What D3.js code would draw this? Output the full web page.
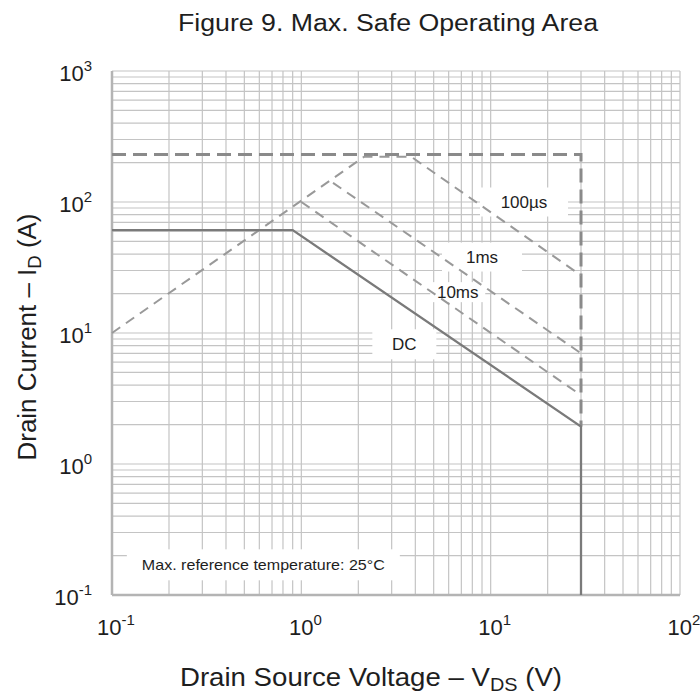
<!DOCTYPE html>
<html>
<head>
<meta charset="utf-8">
<script src="https://cdn.jsdelivr.net/npm/d3@7"></script>
<style>
  body { margin: 0; background: #fff; }
  text { font-family: Arial, "Liberation Sans", sans-serif; fill: #1e1e1e; }
</style>
</head>
<body>
<div id="chart-area"></div>
<script>
// series: [V_DS (V), I_D (A)]
var dcLine = [[0.1, 61], [0.9, 61], [30, 1.93], [30, 0.1]];
var line10ms = [[1, 100], [30, 3.35]];
var line1ms = [[1.47, 140], [30, 7]];
var line100us = [[0.1, 10], [2.15, 222], [3.8, 222], [30, 27.5]];
var boundary = [[0.1, 230], [30, 230], [30, 1.93]];

var xDecades = [0.1, 1, 10, 100];
var yDecades = [0.1, 1, 10, 100, 1000];

// curve labels: text, anchor point in data units
var curveLabels = [
  { text: '100µs', v: 15, i: 100, w: 88, h: 29 },
  { text: '1ms', v: 9, i: 38, w: 80, h: 29 },
  { text: '10ms', v: 6.7, i: 20.5, w: 55, h: 20 },
  { text: 'DC', v: 3.5, i: 8.2, w: 64, h: 30 }
];
var noteLabel = { text: 'Max. reference temperature: 25°C', v: 0.63, i: 0.17, w: 273, h: 31 };

var margin = { top: 71, left: 112, bottom: 105, right: 20 };
var width = 700 - margin.left - margin.right;
var height = 700 - margin.top - margin.bottom;

var svg = d3.select('#chart-area').append('svg')
    .attr('width', 700)
    .attr('height', 700);

svg.append('rect').attr('width', 700).attr('height', 700).attr('fill', '#fff');

var g = svg.append('g').attr('transform', `translate(${margin.left}, ${margin.top})`);

var x = d3.scaleLog().domain([0.1, 100]).range([0, width]);
var y = d3.scaleLog().domain([0.1, 1000]).range([height, 0]);

// grid
g.append('g').attr('class', 'x-grid')
    .selectAll('line').data(x.ticks()).enter().append('line')
    .attr('x1', d => x(d)).attr('x2', d => x(d))
    .attr('y1', 0).attr('y2', height)
    .attr('stroke', '#c4c4c4').attr('stroke-width', 1.2);

g.append('g').attr('class', 'y-grid')
    .selectAll('line').data(y.ticks()).enter().append('line')
    .attr('x1', 0).attr('x2', width)
    .attr('y1', d => y(d)).attr('y2', d => y(d))
    .attr('stroke', '#c4c4c4').attr('stroke-width', 1.2);

// frame
g.append('line').attr('x1', 0).attr('x2', 0).attr('y1', 0).attr('y2', height)
    .attr('stroke', '#b4b4b4').attr('stroke-width', 2.5);
g.append('line').attr('x1', 0).attr('x2', width).attr('y1', height).attr('y2', height)
    .attr('stroke', '#b4b4b4').attr('stroke-width', 2.5);

// white boxes behind labels
var allLabels = curveLabels.concat([noteLabel]);
g.selectAll('rect.label-bg').data(allLabels).enter().append('rect')
    .attr('class', 'label-bg')
    .attr('x', d => x(d.v) - d.w / 2)
    .attr('y', d => y(d.i) - d.h / 2)
    .attr('width', d => d.w)
    .attr('height', d => d.h)
    .attr('fill', '#fff');

var line = d3.line().x(d => x(d[0])).y(d => y(d[1]));

g.append('path').datum(boundary).attr('d', line)
    .attr('fill', 'none').attr('stroke', '#8a8a8a')
    .attr('stroke-width', 3).attr('stroke-dasharray', '14,7');

[line100us, line1ms, line10ms].forEach(s => {
  g.append('path').datum(s).attr('d', line)
    .attr('fill', 'none').attr('stroke', '#999')
    .attr('stroke-width', 2).attr('stroke-dasharray', '10,7');
});

g.append('path').datum(dcLine).attr('d', line)
    .attr('fill', 'none').attr('stroke', '#7a7a7a')
    .attr('stroke-width', 2.3);

// labels
g.selectAll('text.curve-label').data(curveLabels).enter().append('text')
    .attr('class', 'curve-label')
    .attr('x', d => x(d.v))
    .attr('y', d => y(d.i))
    .attr('dy', '0.36em')
    .attr('text-anchor', 'middle')
    .attr('font-size', '17px')
    .text(d => d.text);

g.append('text')
    .attr('x', x(noteLabel.v))
    .attr('y', y(noteLabel.i))
    .attr('dy', '0.36em')
    .attr('text-anchor', 'middle')
    .attr('font-size', '15px')
    .attr('textLength', 243)
    .attr('lengthAdjust', 'spacingAndGlyphs')
    .text(noteLabel.text);

// tick labels as powers of ten
function expOf(d) { return Math.round(Math.log10(d)); }

var xLab = g.selectAll('text.x-tick').data(xDecades).enter().append('text')
    .attr('class', 'x-tick')
    .attr('x', d => x(d) + 4)
    .attr('y', height + 40)
    .attr('text-anchor', 'middle')
    .attr('font-size', '22px');
xLab.append('tspan').text('10');
xLab.append('tspan').attr('dy', -10).attr('font-size', '15px').text(d => expOf(d) < 0 ? '-' + (-expOf(d)) : expOf(d));

var yLab = g.selectAll('text.y-tick').data(yDecades).enter().append('text')
    .attr('class', 'y-tick')
    .attr('x', -20)
    .attr('y', d => y(d) + 10)
    .attr('text-anchor', 'end')
    .attr('font-size', '22px');
yLab.append('tspan').text('10');
yLab.append('tspan').attr('dy', -10).attr('font-size', '15px').text(d => expOf(d) < 0 ? '-' + (-expOf(d)) : expOf(d));

// titles
svg.append('text')
    .attr('x', 388).attr('y', 31)
    .attr('text-anchor', 'middle')
    .attr('font-size', '23px')
    .attr('textLength', 420)
    .attr('lengthAdjust', 'spacingAndGlyphs')
    .text('Figure 9. Max. Safe Operating Area');

var xTitle = svg.append('text')
    .attr('x', 371).attr('y', 686)
    .attr('text-anchor', 'middle')
    .attr('font-size', '25px')
    .attr('textLength', 382)
    .attr('lengthAdjust', 'spacingAndGlyphs');
xTitle.append('tspan').text('Drain Source Voltage  \u2013  V');
xTitle.append('tspan').attr('dy', 5).attr('font-size', '18px').text('DS');
xTitle.append('tspan').attr('dy', -5).text(' (V)');

var yTitle = svg.append('text')
    .attr('transform', 'translate(36, 337) rotate(-90)')
    .attr('text-anchor', 'middle')
    .attr('font-size', '25px')
    .attr('textLength', 247)
    .attr('lengthAdjust', 'spacingAndGlyphs');
yTitle.append('tspan').text('Drain Current \u2013 I');
yTitle.append('tspan').attr('dy', 5).attr('font-size', '18px').text('D');
yTitle.append('tspan').attr('dy', -5).text(' (A)');
</script>
</body>
</html>
